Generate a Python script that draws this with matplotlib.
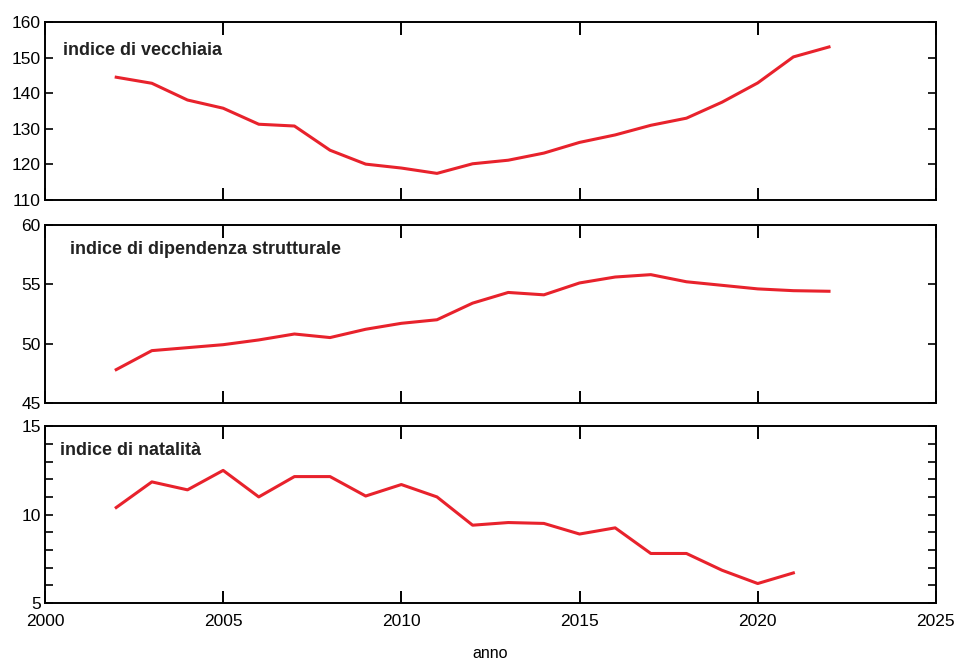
import matplotlib
matplotlib.use('Agg')
import matplotlib.pyplot as plt
from matplotlib.ticker import MultipleLocator

# dati
anni = list(range(2002, 2023))
vecchiaia = [144.5, 142.8, 138.1, 135.8, 131.3, 130.8, 124.0, 120.1, 119.0, 117.5,
             120.2, 121.2, 123.2, 126.2, 128.3, 131.0, 133.0, 137.5, 142.9, 150.2, 153.0]
dipendenza = [47.8, 49.4, 49.65, 49.9, 50.3, 50.8, 50.5, 51.2, 51.7, 52.0,
              53.4, 54.3, 54.1, 55.1, 55.6, 55.8, 55.2, 54.9, 54.6, 54.45, 54.4]
anni_nat = list(range(2002, 2022))
natalita = [10.4, 11.85, 11.4, 12.5, 11.0, 12.15, 12.15, 11.05, 11.7, 11.0,
            9.4, 9.55, 9.5, 8.9, 9.25, 7.8, 7.8, 6.85, 6.1, 6.7]

plt.rcParams['font.family'] = ['Liberation Sans', 'DejaVu Sans']
ROSSO = '#e8222c'

fig = plt.figure(figsize=(9.56, 6.67), dpi=100)
left, width = 0.047, 0.932
ax1 = fig.add_axes([left, 0.700, width, 0.267])
ax2 = fig.add_axes([left, 0.396, width, 0.267])
ax3 = fig.add_axes([left, 0.096, width, 0.265])

pannelli = [
    (ax1, anni, vecchiaia, (110, 160), 10, None, 'indice di vecchiaia', 0.02, 0.84),
    (ax2, anni, dipendenza, (45, 60), 5, None, 'indice di dipendenza strutturale', 0.028, 0.86),
    (ax3, anni_nat, natalita, (5, 15), 5, 1, 'indice di natalità', 0.017, 0.86),
]

for ax, x, y, ylim, ystep, yminor, titolo, tx, ty in pannelli:
    ax.plot(x, y, color=ROSSO, linewidth=2.2)
    ax.set_xlim(2000, 2025)
    ax.set_ylim(*ylim)
    ax.xaxis.set_major_locator(MultipleLocator(5))
    ax.yaxis.set_major_locator(MultipleLocator(ystep))
    if yminor:
        ax.yaxis.set_minor_locator(MultipleLocator(yminor))
    ax.tick_params(axis='x', which='major', direction='in', top=True, bottom=True,
                   length=9, width=1.4)
    ax.tick_params(axis='y', which='both', direction='in', left=True, right=True,
                   length=6, width=1.2, pad=3)
    ax.tick_params(axis='both', labelsize=12.5, colors='black')
    for sp in ax.spines.values():
        sp.set_linewidth(1.4)
    ax.text(tx, ty, titolo, transform=ax.transAxes, fontsize=13,
            fontweight='bold', va='center', ha='left', color='#222222')

for ax in (ax1, ax2):
    ax.tick_params(axis='x', labelbottom=False)

ax3.tick_params(axis='x', pad=8)
ax3.set_xlabel('anno', fontsize=11.5, labelpad=12)

fig.savefig('out.png', dpi=100)
